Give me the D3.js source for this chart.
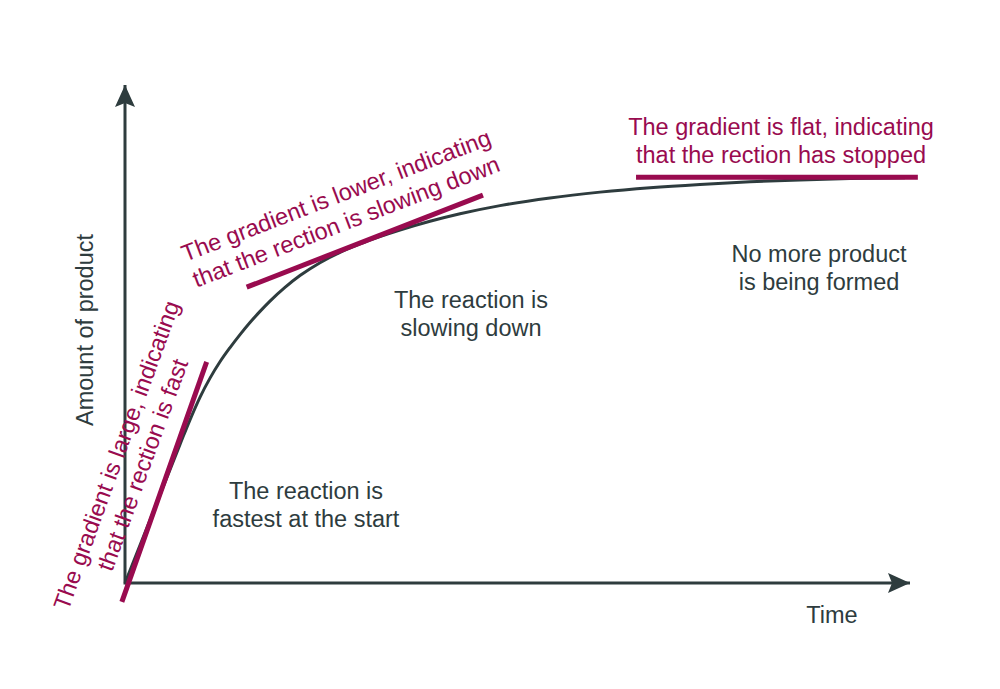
<!DOCTYPE html>
<html>
<head>
<meta charset="utf-8">
<script src="https://cdn.jsdelivr.net/npm/d3@7"></script>
<style>
  body { margin: 0; background: #fff; }
  text { font-family: "Liberation Sans", Arial, sans-serif; }
</style>
</head>
<body>
<div id="chart"></div>
<script>
// Curve data: time vs amount of product (both 0-100, no units on the sketch)
var timeValues = [0, 7.01, 8.28, 9.55, 10.83, 12.10, 13.38, 14.65, 15.92, 17.20, 18.47,
  20.38, 22.29, 24.84, 27.39, 29.94, 32.48, 35.03, 38.85, 42.68, 47.77, 54.14,
  60.51, 66.88, 73.25, 79.62, 85.99, 92.36, 99.36];
var productValues = [0, 27.83, 32.77, 37.29, 41.14, 44.42, 47.27, 49.88, 52.31, 54.54, 56.61,
  59.36, 61.73, 64.32, 66.39, 68.09, 69.56, 70.88, 72.63, 74.14, 75.78, 77.33,
  78.49, 79.38, 80.04, 80.56, 80.94, 81.20, 81.37];

// Tangent lines: [x1, x2] and [y1, y2]
var tangentX = [[-0.4, 10.4], [15.5, 45.6], [65.1, 101.0]];
var tangentY = [[-3.8, 44.4], [59.4, 77.9], [81.5, 81.5]];

var notesDark = [
  ["The reaction is", "fastest at the start"],
  ["The reaction is", "slowing down"],
  ["No more product", "is being formed"]
];
var notesGradient = [
  ["The gradient is large, indicating", "that the rection is fast"],
  ["The gradient is lower, indicating", "that the rection is slowing down"],
  ["The gradient is flat, indicating", "that the rection has stopped"]
];

var svgWidth = 1000;
var svgHeight = 689;
var dark = "#2e3c3e";
var red = "#990b4f";
var fontSize = "23.5px";

var svg = d3.select("#chart").append("svg")
  .attr("width", svgWidth)
  .attr("height", svgHeight);

var xScale = d3.scaleLinear().domain([0, 100]).range([125, 910]);
var yScale = d3.scaleLinear().domain([0, 100]).range([583, 85]);

// arrow heads
var defs = svg.append("defs");
defs.append("marker")
  .attr("id", "arrow")
  .attr("viewBox", "0 0 22 20")
  .attr("refX", 22)
  .attr("refY", 10)
  .attr("markerWidth", 22)
  .attr("markerHeight", 20)
  .attr("markerUnits", "userSpaceOnUse")
  .attr("orient", "auto")
  .append("path")
  .attr("d", "M0,0 L22,10 L0,20 L4,10 Z")
  .attr("fill", dark);

// axes
svg.append("line")
  .attr("x1", xScale(0)).attr("y1", yScale(0))
  .attr("x2", xScale(100)).attr("y2", yScale(0))
  .attr("stroke", dark).attr("stroke-width", 3)
  .attr("marker-end", "url(#arrow)");

svg.append("line")
  .attr("x1", xScale(0)).attr("y1", yScale(0) + 1.5)
  .attr("x2", xScale(0)).attr("y2", yScale(100))
  .attr("stroke", dark).attr("stroke-width", 3)
  .attr("marker-end", "url(#arrow)");

// curve
var points = timeValues.map(function(t, i) { return [t, productValues[i]]; });
var line = d3.line()
  .x(d => xScale(d[0]))
  .y(d => yScale(d[1]))
  .curve(d3.curveMonotoneX);

svg.append("path")
  .datum(points)
  .attr("d", line)
  .attr("fill", "none")
  .attr("stroke", dark)
  .attr("stroke-width", 3);

// tangents
svg.selectAll(".tangent")
  .data(tangentX)
  .enter()
  .append("line")
  .attr("class", "tangent")
  .attr("x1", d => xScale(d[0]))
  .attr("x2", d => xScale(d[1]))
  .attr("y1", (d, i) => yScale(tangentY[i][0]))
  .attr("y2", (d, i) => yScale(tangentY[i][1]))
  .attr("stroke", red)
  .attr("stroke-width", 5);

// text blocks: [x, y, angle] of the first baseline centre
function addNote(lines, pos, color) {
  var g = svg.append("g")
    .attr("transform", `translate(${pos[0]}, ${pos[1]}) rotate(${pos[2]})`);
  lines.forEach(function(t, i) {
    g.append("text")
      .attr("x", 0)
      .attr("y", i * 28)
      .attr("text-anchor", "middle")
      .attr("font-size", fontSize)
      .attr("fill", color)
      .text(t);
  });
}

addNote(notesDark[0], [306, 499, 0], dark);
addNote(notesDark[1], [471, 308, 0], dark);
addNote(notesDark[2], [819, 262, 0], dark);

addNote(notesGradient[0], [124, 458, -70], red);
addNote(notesGradient[1], [339, 203, -21], red);
addNote(notesGradient[2], [781, 135, 0], red);

// axis labels
svg.append("text")
  .attr("transform", "translate(93, 330) rotate(-90)")
  .attr("text-anchor", "middle")
  .attr("font-size", fontSize)
  .attr("fill", dark)
  .text("Amount of product");

svg.append("text")
  .attr("x", 832)
  .attr("y", 623)
  .attr("text-anchor", "middle")
  .attr("font-size", fontSize)
  .attr("fill", dark)
  .text("Time");
</script>
</body>
</html>
